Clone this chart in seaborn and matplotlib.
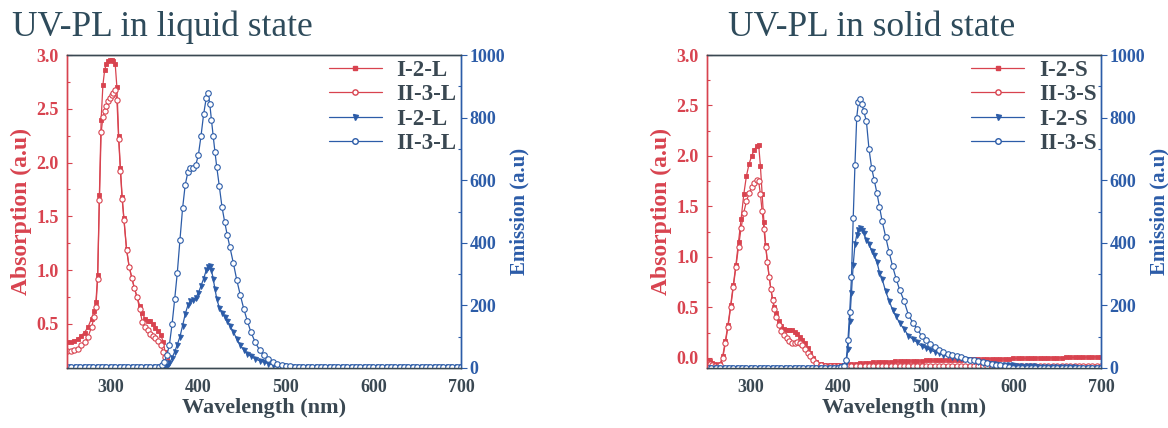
import matplotlib
matplotlib.use("Agg")
import matplotlib.pyplot as plt
from matplotlib.ticker import MultipleLocator
from matplotlib.lines import Line2D
import seaborn as sns

sns.set_style("white")
plt.rcParams['font.family'] = ['Liberation Serif', 'DejaVu Serif']

# ---------------- data: liquid state ----------------
wl_abs_liq = [250, 254, 258, 262, 266, 270, 274, 278,
              281,
              283, 285, 287, 289, 291, 293, 295, 297, 299, 301, 303, 305, 307, 309, 311, 313, 315,
              318, 321, 324, 327, 330, 333, 336, 339, 342, 345, 348, 351, 354, 357,
              360, 362, 364]
abs_I2_L = [0.33, 0.33, 0.34, 0.36, 0.39, 0.42, 0.47, 0.55,
            0.62,
            0.70, 0.95, 1.70, 2.40, 2.72, 2.86, 2.92, 2.94, 2.95, 2.95, 2.94, 2.92, 2.70, 2.25, 1.95, 1.68, 1.48,
            1.20, 1.03, 0.93, 0.83, 0.75, 0.67, 0.60, 0.55, 0.53, 0.53, 0.50, 0.46, 0.43, 0.40,
            0.33, 0.24, 0.17]
abs_II3_L = [0.25, 0.25, 0.26, 0.27, 0.30, 0.33, 0.38, 0.47,
             0.56,
             0.66, 0.92, 1.65, 2.28, 2.42, 2.48, 2.53, 2.57, 2.60, 2.63, 2.65, 2.67, 2.58, 2.22, 1.92, 1.66, 1.47,
             1.19, 1.03, 0.93, 0.83, 0.75, 0.64, 0.52, 0.47, 0.44, 0.41, 0.39, 0.37, 0.34, 0.30,
             0.24, 0.19, 0.15]

wl_em_liq = [250, 255, 260, 265, 270, 275, 280, 285, 290, 295, 300, 305, 310, 315, 320, 325, 330, 335, 340, 345, 350, 355,
             358, 361, 364, 367, 370, 373, 376, 379, 382, 385, 388, 391, 394, 397, 400, 403, 406, 409,
             411, 413, 415, 417, 419, 421,
             424, 427, 430, 433, 436,
             440, 444, 448, 452, 456, 460,
             465, 470, 475, 480, 485, 490, 495, 500, 505, 510, 515, 520, 525, 530,
             535, 540, 545, 550, 555, 560, 565, 570, 575, 580, 585, 590, 595, 600, 605, 610, 615,
             620, 625, 630, 635, 640, 645, 650, 655, 660, 665, 670, 675, 680, 685, 690, 695, 700]
em_I2_L = [2, 2, 2, 2, 2, 2, 2, 2, 2, 2, 2, 2, 2, 2, 2, 2, 2, 2, 2, 2, 2, 2,
           2, 3, 5, 15, 32, 52, 75, 100, 135, 172, 200, 213, 217, 225, 239, 262, 285, 312,
           324, 326, 312, 285, 252, 222,
           192, 176, 163, 150, 135,
           115, 92, 72, 56, 45, 37,
           29, 23, 18, 14, 11, 9, 7, 5, 4, 3, 3, 2, 2, 2,
           2, 2, 2, 2, 2, 2, 2, 2, 2, 2, 2, 2, 2, 2, 2, 2, 2,
           2, 2, 2, 2, 2, 2, 2, 2, 2, 2, 2, 2, 2, 2, 2, 2, 2]
em_II3_L = [2, 2, 2, 2, 2, 2, 2, 2, 2, 2, 2, 2, 2, 2, 2, 2, 2, 2, 3, 3, 3, 4,
            8, 18, 40, 75, 140, 220, 305, 409, 510, 585, 625, 638, 640, 648, 680, 740, 810, 862,
            878, 845, 792, 740, 690, 643,
            580, 515, 468, 425, 387,
            335, 280, 232, 188, 150, 115,
            82, 57, 40, 28, 20, 13, 9, 7, 5, 4, 3, 3, 3, 2,
            2, 2, 2, 2, 2, 2, 2, 2, 2, 2, 2, 2, 2, 2, 2, 2, 2,
            2, 2, 2, 2, 2, 2, 2, 2, 2, 2, 2, 2, 2, 2, 2, 2, 2]

# ---------------- data: solid state ----------------
wl_abs_sol = [250, 253, 256, 259, 262, 265, 268, 271, 274, 277, 280, 283, 286, 289, 292, 295, 298, 301, 304, 307,
              309,
              311, 313, 315, 317, 319, 321, 323, 325, 327, 329,
              332, 335, 338, 341, 344, 347, 350, 353, 356, 359, 362, 365, 368, 371,
              375, 380,
              385, 390, 395, 400, 405, 410,
              415, 420, 425, 430, 435, 440, 445, 450, 455, 460,
              465, 470, 475, 480, 485, 490, 495, 500,
              505, 510, 515, 520, 525, 530, 535, 540,
              545, 550, 555, 560, 565, 570, 575, 580,
              585, 590, 595, 600, 605, 610, 615, 620,
              625, 630, 635, 640, 645, 650, 655, 660,
              665, 670, 675, 680, 685, 690, 695, 700]
abs_I2_S = [-0.02, -0.03, -0.05, -0.06, -0.07, -0.06, 0.02, 0.17, 0.33, 0.52, 0.72, 0.92, 1.15, 1.38, 1.62, 1.80, 1.92, 2.00, 2.06, 2.10,
            2.11,
            1.90, 1.62, 1.35, 1.12, 0.95, 0.80, 0.68, 0.58, 0.50, 0.44,
            0.37, 0.32, 0.29, 0.28, 0.28, 0.28, 0.26, 0.24, 0.21, 0.18, 0.15, 0.10, 0.05, 0.00,
            -0.04, -0.06,
            -0.07, -0.07, -0.07, -0.07, -0.07, -0.07,
            -0.065, -0.06, -0.055, -0.05, -0.05, -0.045, -0.045, -0.04, -0.04, -0.04,
            -0.035, -0.035, -0.035, -0.03, -0.03, -0.03, -0.03, -0.025,
            -0.025, -0.025, -0.025, -0.02, -0.02, -0.02, -0.02, -0.02,
            -0.015, -0.015, -0.015, -0.015, -0.015, -0.01, -0.01, -0.01,
            -0.01, -0.01, -0.01, -0.005, -0.005, -0.005, -0.005, -0.005,
            0.0, 0.0, 0.0, 0.0, 0.0, 0.0, 0.0, 0.005,
            0.005, 0.005, 0.005, 0.005, 0.01, 0.01, 0.01, 0.01]
abs_II3_S = [-0.05, -0.06, -0.07, -0.08, -0.08, -0.07, 0.00, 0.15, 0.31, 0.50, 0.70, 0.90, 1.10, 1.29, 1.44, 1.55, 1.63, 1.69, 1.73, 1.76,
             1.75,
             1.62, 1.45, 1.28, 1.10, 0.95, 0.80, 0.68, 0.57, 0.48, 0.41,
             0.33, 0.27, 0.23, 0.20, 0.17, 0.15, 0.15, 0.16, 0.15, 0.13, 0.09, 0.05, 0.02, -0.02,
             -0.05, -0.07,
             -0.08, -0.08, -0.08, -0.08, -0.08, -0.08,
             -0.085, -0.085, -0.085, -0.085, -0.085, -0.085, -0.085, -0.085, -0.085, -0.085,
             -0.085, -0.085, -0.085, -0.085, -0.085, -0.085, -0.085, -0.085,
             -0.085, -0.085, -0.085, -0.085, -0.085, -0.085, -0.085, -0.085,
             -0.085, -0.085, -0.085, -0.085, -0.085, -0.085, -0.085, -0.085,
             -0.085, -0.085, -0.085, -0.085, -0.085, -0.085, -0.085, -0.085,
             -0.085, -0.085, -0.085, -0.085, -0.085, -0.085, -0.085, -0.085,
             -0.085, -0.085, -0.085, -0.085, -0.085, -0.085, -0.085, -0.085]

wl_em_sol = [250, 255, 260, 265, 270, 275, 280, 285, 290, 295, 300, 305, 310, 315, 320, 325, 330, 335, 340, 345,
             350, 355, 360, 365, 370, 375, 380, 385, 390, 395, 400,
             403, 406, 409,
             411, 413, 415, 417, 419, 421, 423, 425, 427, 429,
             432, 435, 438, 441, 444, 447, 450,
             454, 458, 462, 466, 470,
             475, 480, 485, 490, 495, 500, 505, 510, 515, 520, 525, 530, 535,
             540, 545, 550, 555, 560, 565, 570, 575, 580, 585, 590, 595, 600,
             605, 610, 615, 620, 625, 630, 635, 640, 645, 650,
             655, 660, 665, 670, 675, 680, 685, 690, 695, 700]
em_I2_S = [0, 0, 0, 0, 0, 0, 0, 0, 0, 0, 0, 0, 0, 0, 0, 0, 0, 0, 0, 0,
           0, 0, 0, 0, 0, 0, 0, 0, 0, 0, 0,
           2, 5, 20,
           60, 150, 240, 330, 395, 425, 440, 446, 440, 430,
           410, 395, 375, 360, 340, 305, 285,
           245, 215, 185, 165, 143,
           125, 103, 92, 82, 70, 63, 57, 52, 47, 43, 40, 36, 33,
           31, 28, 26, 23, 20, 17, 15, 13, 12, 11, 10, 9, 8,
           7, 7, 6, 5, 5, 4, 4, 3, 3, 3,
           2, 2, 2, 2, 1, 1, 1, 1, 1, 1]
em_II3_S = [0, 0, 0, 0, 0, 0, 0, 0, 0, 0, 0, 0, 0, 0, 0, 0, 0, 0, 0, 0,
            0, 0, 0, 0, 0, 0, 0, 0, 0, 0, 0,
            3, 6, 25,
            90, 180, 290, 480, 650, 800, 850, 860, 845, 820,
            790, 700, 640, 600, 560, 515, 470,
            420, 370, 325, 285, 250,
            215, 170, 145, 125, 103, 90, 78, 66, 57, 50, 45, 40, 37,
            34, 30, 27, 24, 22, 20, 17, 14, 11, 8, 5, 3, 1,
            0, 0, 0, 0, 0, 0, 0, 0, 0, 0,
            0, 0, 0, 0, 0, 0, 0, 0, 0, 0]

xticks = [300, 400, 500, 600, 700]

# ---------------- style ----------------
RED = "#d8434f"
BLUE = "#2c5ca8"
DARK = "#3a4852"
TITLE = "#2e4b5b"

fig = plt.figure(figsize=(11.68, 4.28), dpi=100)
W, H = 1168, 428


def panel(left_px, wl_a, a1, a2, wl_e, e1, e2, abs_ylim, abs_ticks, tag):
    ax = fig.add_axes([left_px / W, (H - 368) / H, 394 / W, 313 / H])
    ax2 = ax.twinx()
    lw = 0.9
    ms = 3.2
    sns.lineplot(x=wl_a, y=a1, ax=ax, color=RED, lw=lw, marker='s', markersize=ms,
                 markerfacecolor=RED, markeredgecolor=RED, markeredgewidth=0.6, legend=False)
    sns.lineplot(x=wl_a, y=a2, ax=ax, color=RED, lw=lw, marker='o', markersize=ms + 0.6,
                 markerfacecolor='white', markeredgecolor=RED, markeredgewidth=0.8, legend=False)
    sns.lineplot(x=wl_e, y=e1, ax=ax2, color=BLUE, lw=lw, marker='v', markersize=ms + 0.4,
                 markerfacecolor=BLUE, markeredgecolor=BLUE, markeredgewidth=0.6, legend=False)
    sns.lineplot(x=wl_e, y=e2, ax=ax2, color=BLUE, lw=lw, marker='o', markersize=ms + 0.8,
                 markerfacecolor='white', markeredgecolor=BLUE, markeredgewidth=0.8, legend=False)

    ax.set_xlim(250, 700)
    ax.set_ylim(*abs_ylim)
    ax2.set_ylim(0, 1000)
    ax.set_xticks(xticks)
    ax.xaxis.set_minor_locator(MultipleLocator(50))
    ax.set_yticks(abs_ticks)
    ax.yaxis.set_minor_locator(MultipleLocator(0.25))
    ax2.set_yticks([0, 200, 400, 600, 800, 1000])
    ax2.yaxis.set_minor_locator(MultipleLocator(100))

    ax.set_yticklabels([f"{t:.1f}" for t in abs_ticks])

    for a in (ax, ax2):
        a.spines['top'].set_color(DARK)
        a.spines['bottom'].set_color(DARK)
        a.spines['left'].set_color(RED)
        a.spines['right'].set_color(BLUE)
        for s in a.spines.values():
            s.set_linewidth(1.0)

    ax.tick_params(axis='x', which='both', direction='in', colors=DARK, length=4, width=0.8,
                   labelsize=13, pad=8, top=False)
    ax.tick_params(axis='x', which='minor', length=2.5)
    ax.tick_params(axis='y', which='both', direction='in', colors=RED, length=3.5, width=0.8,
                   labelsize=13, pad=6)
    ax.tick_params(axis='y', which='minor', length=2.5)
    ax2.tick_params(axis='y', which='major', direction='out', colors=BLUE, length=4, width=0.8,
                    labelsize=13, pad=2)
    ax2.tick_params(axis='y', which='minor', direction='in', colors=BLUE, length=2.5, width=0.8)
    for lab in ax.get_xticklabels() + ax.get_yticklabels() + ax2.get_yticklabels():
        lab.set_fontweight('bold')

    ax.set_xlabel("Wavelength (nm)", fontsize=16, fontweight='bold', color=DARK, labelpad=1)
    ax.set_ylabel("Absorption (a.u)", fontsize=17, fontweight='bold', color=RED, labelpad=3)
    ax2.set_ylabel("Emission (a.u)", fontsize=15, fontweight='bold', color=BLUE, labelpad=3)

    handles = [
        Line2D([], [], color=RED, lw=lw, marker='s', markersize=ms, markerfacecolor=RED, markeredgecolor=RED),
        Line2D([], [], color=RED, lw=lw, marker='o', markersize=ms + 0.6, markerfacecolor='white', markeredgecolor=RED),
        Line2D([], [], color=BLUE, lw=lw, marker='v', markersize=ms + 0.4, markerfacecolor=BLUE, markeredgecolor=BLUE),
        Line2D([], [], color=BLUE, lw=lw, marker='o', markersize=ms + 0.8, markerfacecolor='white', markeredgecolor=BLUE),
    ]
    labels = [f"I-2-{tag}", f"II-3-{tag}", f"I-2-{tag}", f"II-3-{tag}"]
    leg = ax2.legend(handles, labels, loc='upper right', frameon=False, numpoints=1,
                     handlelength=2.3, handletextpad=0.65, labelspacing=0.15,
                     borderaxespad=0.0, borderpad=0.2,
                     prop={'family': 'Liberation Serif', 'weight': 'bold', 'size': 16.5})
    for t in leg.get_texts():
        t.set_color(DARK)
    return ax, ax2


panel(67, wl_abs_liq, abs_I2_L, abs_II3_L, wl_em_liq, em_I2_L, em_II3_L,
      (0.09, 3.0), [0.5, 1.0, 1.5, 2.0, 2.5, 3.0], "L")
panel(707, wl_abs_sol, abs_I2_S, abs_II3_S, wl_em_sol, em_I2_S, em_II3_S,
      (-0.1, 3.0), [0.0, 0.5, 1.0, 1.5, 2.0, 2.5, 3.0], "S")

fig.text(12 / W, (H - 36) / H, "UV-PL in liquid state", fontsize=25.5, color=TITLE, va='baseline', ha='left')
fig.text(728 / W, (H - 36) / H, "UV-PL in solid state", fontsize=25.5, color=TITLE, va='baseline', ha='left')

fig.savefig("out.png", dpi=100)
